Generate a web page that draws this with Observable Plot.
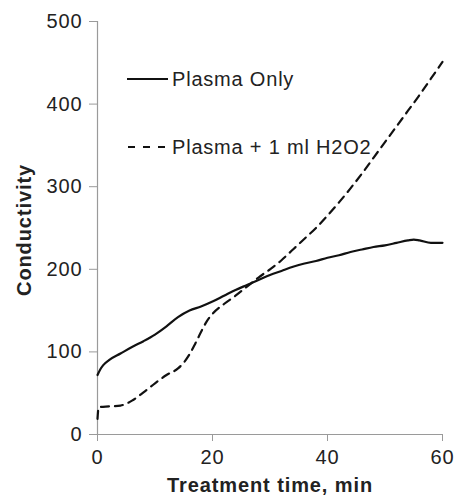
<!DOCTYPE html>
<html><head><meta charset="utf-8">
<script src="https://cdn.jsdelivr.net/npm/d3@7"></script>
<script src="https://cdn.jsdelivr.net/npm/@observablehq/plot@0.6"></script>
<style>
body{margin:0;background:#fff;}
#wrap{position:relative;width:460px;height:497px;font-family:"Liberation Sans",Arial,sans-serif;}
#legend{position:absolute;left:0;top:0;pointer-events:none;}
</style></head><body><div id="wrap"></div>
<script>
// Series: Plasma Only (solid)
const timeOnly   = [0, 0.5, 1, 2, 4, 6, 8, 10, 12, 14, 16, 18, 20, 22, 24, 26, 28, 30, 32, 34, 36, 38, 40, 42, 44, 46, 48, 50, 52, 54, 55, 56, 58, 60];
const plasmaOnly = [72, 79, 84, 90, 98, 106, 113, 121, 131, 142, 150, 155, 161, 168, 175, 181, 187, 193, 198, 203, 207, 210, 214, 217, 221, 224, 227, 229, 232, 235, 236, 235, 232, 232];
// Series: Plasma + 1 ml H2O2 (dashed)
const timeH2O2   = [0, 0.2, 2, 4, 6, 8, 10, 12, 14, 15, 16, 17, 18, 19, 20, 22, 24, 26, 28, 30, 32, 34, 36, 38, 40, 42, 44, 46, 48, 50, 52, 54, 56, 58, 60];
const plasmaH2O2 = [19, 33, 34, 35, 41, 51, 62, 72, 80, 87, 97, 110, 124, 137, 146, 158, 168, 179, 190, 200, 211, 224, 237, 250, 265, 281, 298, 316, 335, 354, 373, 392, 411, 431, 451];
const seriesNames = ["Plasma Only", "Plasma + 1 ml H2O2"];
const xTicks = [0, 20, 40, 60];
const yTicks = [0, 100, 200, 300, 400, 500];
const xTitle = "Treatment time, min";
const yTitle = "Conductivity";

const rows = [
  ...timeOnly.map((t, i) => ({t, v: plasmaOnly[i], s: seriesNames[0]})),
  ...timeH2O2.map((t, i) => ({t, v: plasmaH2O2[i], s: seriesNames[1]}))
];

const axisGrey = "#9a9a9a";
const chart = Plot.plot({
  width: 460, height: 497,
  marginLeft: 97, marginRight: 18, marginTop: 21, marginBottom: 63,
  style: {fontFamily: "'Liberation Sans', Arial, sans-serif", fontSize: "20px", letterSpacing: "0.9px", background: "#fff", overflow: "visible"},
  x: {domain: [0, 60]},
  y: {domain: [0, 500]},
  marks: [
    Plot.axisX({ticks: xTicks, tickSize: 7, tickPadding: 8, stroke: axisGrey, color: "#222", label: null, tickFormat: d => String(d)}),
    Plot.axisY({ticks: yTicks, tickSize: 8, tickPadding: 7, stroke: axisGrey, color: "#222", label: null, tickFormat: d => String(d)}),
    Plot.ruleX([0], {stroke: axisGrey, strokeWidth: 1.2}),
    Plot.ruleY([0], {stroke: axisGrey, strokeWidth: 1.2}),
    Plot.line(rows.filter(d => d.s === seriesNames[0]), {x: "t", y: "v", stroke: "#111", strokeWidth: 2.2, curve: "monotone-x"}),
    Plot.line(rows.filter(d => d.s === seriesNames[1]), {x: "t", y: "v", stroke: "#111", strokeWidth: 2.2, strokeDasharray: "8,6", curve: "monotone-x"}),
    Plot.text([xTitle], {text: d => d, frameAnchor: "bottom", textAnchor: "middle", dy: 57, lineAnchor: "bottom", fontWeight: "bold", fontSize: 20, fill: "#222"}),
    Plot.text([yTitle], {text: d => d, frameAnchor: "left", textAnchor: "middle", dx: -67, dy: 2, rotate: -90, lineAnchor: "bottom", fontWeight: "bold", fontSize: 20, fill: "#222"})
  ]
});
const wrap = document.getElementById("wrap");
wrap.appendChild(chart);

// Legend overlay (inside plot area, upper-left)
const ns = "http://www.w3.org/2000/svg";
const leg = document.createElementNS(ns, "svg");
leg.setAttribute("id", "legend");
leg.setAttribute("width", 460); leg.setAttribute("height", 497);
const legendRows = [{y: 79, dash: null}, {y: 147, dash: "7,8"}];
seriesNames.forEach((name, i) => {
  const r = legendRows[i];
  const ln = document.createElementNS(ns, "line");
  ln.setAttribute("x1", r.dash ? 128 : 127); ln.setAttribute("x2", 168);
  ln.setAttribute("y1", r.y); ln.setAttribute("y2", r.y);
  ln.setAttribute("stroke", "#111"); ln.setAttribute("stroke-width", 2.2);
  if (r.dash) ln.setAttribute("stroke-dasharray", r.dash);
  leg.appendChild(ln);
  const tx = document.createElementNS(ns, "text");
  tx.setAttribute("x", 172); tx.setAttribute("y", r.y + 6.5);
  tx.setAttribute("font-size", 20); tx.setAttribute("fill", "#222");
  tx.setAttribute("letter-spacing", "0.8px");
  tx.setAttribute("font-family", "'Liberation Sans', Arial, sans-serif");
  tx.textContent = name;
  leg.appendChild(tx);
});
wrap.appendChild(leg);
</script></body></html>
